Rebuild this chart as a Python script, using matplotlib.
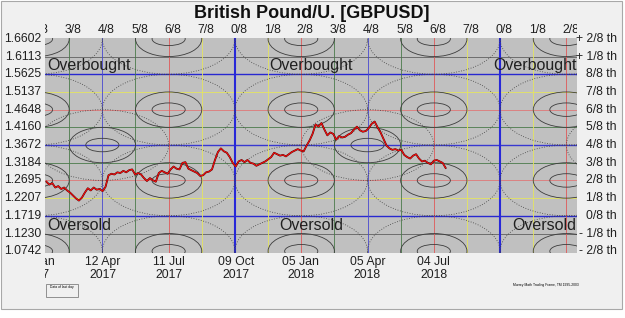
import matplotlib
matplotlib.use("Agg")
import matplotlib.pyplot as plt
import matplotlib.dates as mdates
from matplotlib.patches import Ellipse, Rectangle
from matplotlib.transforms import offset_copy
from datetime import date, timedelta

plt.rcParams['font.family'] = ['Liberation Sans', 'DejaVu Sans']

# price levels (Murrey octave) and their names
levels = [1.0742, 1.1230, 1.1719, 1.2207, 1.2695, 1.3184, 1.3672,
          1.4160, 1.4648, 1.5137, 1.5625, 1.6113, 1.6602]
level_names = ["- 2/8 th", "- 1/8 th", "0/8 th", "1/8 th", "2/8 th", "3/8 th", "4/8 th",
               "5/8 th", "6/8 th", "7/8 th", "8/8 th", "+ 1/8 th", "+ 2/8 th"]

# time frame labels
time_dates = [date(2017, 1, 12), date(2017, 4, 12), date(2017, 7, 11), date(2017, 10, 9),
              date(2018, 1, 5), date(2018, 4, 5), date(2018, 7, 4)]
time_labels = ["12 Jan\n2017", "12 Apr\n2017", "11 Jul\n2017", "09 Oct\n2017",
               "05 Jan\n2018", "05 Apr\n2018", "04 Jul\n2018"]
time_names = ["2/8", "3/8", "4/8", "5/8", "6/8", "7/8", "0/8", "1/8", "2/8",
              "3/8", "4/8", "5/8", "6/8", "7/8", "0/8", "1/8", "2/8"]

# GBPUSD, one value every 4 days from 26 Jan 2017
price_start = date(2017, 1, 26)
gbpusd = [1.266, 1.258, 1.262, 1.250, 1.254, 1.246, 1.250, 1.242, 1.236, 1.228,
          1.220, 1.214, 1.222, 1.236, 1.248, 1.242, 1.250, 1.244, 1.246, 1.240,
          1.252, 1.284, 1.288, 1.286, 1.292, 1.290, 1.296, 1.292, 1.298, 1.300,
          1.286, 1.290, 1.286, 1.276, 1.268, 1.276, 1.270, 1.266, 1.290, 1.296,
          1.292, 1.288, 1.300, 1.308, 1.302, 1.300, 1.318, 1.320, 1.302, 1.298,
          1.294, 1.290, 1.282, 1.284, 1.292, 1.294, 1.300, 1.326, 1.348, 1.358,
          1.350, 1.346, 1.334, 1.318, 1.308, 1.322, 1.326, 1.320, 1.326, 1.318,
          1.316, 1.310, 1.314, 1.318, 1.322, 1.328, 1.334, 1.346, 1.342, 1.338,
          1.340, 1.336, 1.342, 1.348, 1.352, 1.356, 1.352, 1.350, 1.366, 1.380,
          1.398, 1.424, 1.418, 1.428, 1.410, 1.394, 1.402, 1.398, 1.382, 1.392,
          1.388, 1.390, 1.396, 1.400, 1.410, 1.418, 1.408, 1.404, 1.406, 1.414,
          1.426, 1.432, 1.416, 1.402, 1.384, 1.366, 1.358, 1.354, 1.356, 1.352,
          1.354, 1.340, 1.334, 1.330, 1.338, 1.342, 1.330, 1.322, 1.324, 1.318,
          1.314, 1.324, 1.326, 1.322, 1.318, 1.304]

line_colors = {"0/8": "#2828d8", "4/8": "#4848d0", "2/8": "#e05858", "6/8": "#e05858",
               "3/8": "#4a7a4a", "5/8": "#4a7a4a", "1/8": "#e4e460", "7/8": "#e4e460"}
hlevel_colors = ["#c0c0c0", "#606060", "#2828d0", "#e4e460", "#e07878", "#4a7a4a", "#3838d0",
                 "#4a7a4a", "#e07878", "#e4e460", "#2828d0", "#606060", "#c0c0c0"]

W, H = 625, 318
fig = plt.figure(figsize=(W / 100, H / 100), dpi=100)
fig.patch.set_facecolor("white")
fig.patches.append(Rectangle((1 / W, 9 / H), 621 / W, 308 / H, transform=fig.transFigure,
                             facecolor="#f0f0f0", edgecolor="#a8a8a8", lw=0.8, zorder=-5))

left, right, top, bottom = 45, 577, 38, 253
ax = fig.add_axes([left / W, 1 - bottom / H, (right - left) / W, (bottom - top) / H])
ax.set_facecolor("#c0c0c0")
for s in ax.spines.values():
    s.set_visible(False)
ax.set_xticks([])
ax.set_yticks([])

t0 = mdates.date2num(time_dates[0])
step_t = (mdates.date2num(time_dates[-1]) - t0) / 12.0
step_p = (levels[-1] - levels[0]) / 12.0
zero_p = levels[2]

ax.set_xlim(t0 + 0.27 * step_t, t0 + 16.32 * step_t)
ax.set_ylim(levels[0] - 0.1 * step_p, levels[-1] + 0.05 * step_p)

# horizontal levels
for lv, c in zip(levels, hlevel_colors):
    lw = 1.0 if c in ("#2828d0", "#3838d0") else 0.6
    ax.axhline(lv, color=c, lw=lw, zorder=2)

# vertical time lines
for k, nm in enumerate(time_names):
    x = t0 + k * step_t
    lw = 1.5 if nm == "0/8" else 0.6
    ax.axvline(x, color=line_colors[nm], lw=lw, zorder=2)

# ellipses (time-price squares)
for k in range(-4, 21):
    n = k + 2
    x = t0 + k * step_t
    for v in range(-4, 13):
        y = zero_p + v * step_p
        solid = (n % 4 == 2 and v % 4 == 2) or (n % 8 == 4 and v == 4)
        if not solid:
            continue
        for rw, rh in [(0.5, 0.38), (1.0, 1.0)]:
            ax.add_patch(Ellipse((x, y), 2 * rw * step_t, 2 * rh * step_p, fill=False,
                                 ec="#3c3c3c", lw=0.6, zorder=3))
        ax.add_patch(Ellipse((x, y), 4 * step_t, 4 * step_p, fill=False,
                             ec="#404040", lw=0.6, ls=(0, (1, 2)), zorder=3))

# price
px = [mdates.date2num(price_start + timedelta(days=4 * i)) for i in range(len(gbpusd))]
ax.plot(px, gbpusd, color="#500000", lw=1.3, zorder=5)
ax.plot(px, gbpusd, color="#ff1010", lw=0.7, zorder=6)

# overbought / oversold
for xa, ha in [(0.004, "left"), (0.5, "center"), (0.999, "right")]:
    ax.text(xa, levels[10] + 0.1 * step_p, "Overbought", transform=ax.get_yaxis_transform(),
            ha=ha, va="bottom", fontsize=11.5, color="#202020", zorder=7)
    ax.text(xa, levels[2] - 0.12 * step_p, "Oversold", transform=ax.get_yaxis_transform(),
            ha=ha, va="top", fontsize=11.5, color="#202020", zorder=7)

# left / right price labels
for lv, nm in zip(levels, level_names):
    ax.text(-4 / (right - left), lv, f"{lv:.4f}", transform=ax.get_yaxis_transform(),
            ha="right", va="center", fontsize=8.8, color="#202020", clip_on=False)
    ax.text(1 + 40 / (right - left), lv, nm, transform=ax.get_yaxis_transform(),
            ha="right", va="center", fontsize=8.8, color="#202020", clip_on=False)

# top strip with time eighths, bottom strip with dates (clipped to plot width)
ax_top = fig.add_axes([left / W, 1 - top / H, (right - left) / W, 17 / H])
ax_bot = fig.add_axes([left / W, 1 - 284 / H, (right - left) / W, 31 / H])
for a in (ax_top, ax_bot):
    a.set_xlim(ax.get_xlim())
    a.set_ylim(0, 1)
    a.axis("off")
top_tr = offset_copy(ax_top.transData, fig=fig, x=4, y=0, units="dots")
for k, nm in enumerate(time_names):
    t = ax_top.text(t0 + k * step_t, 0.45, nm, transform=top_tr, ha="center", va="center",
                    fontsize=8.8, color="#202020")
    t.set_clip_box(ax_top.bbox)
    t.set_clip_on(True)
for d, lab in zip(time_dates, time_labels):
    t = ax_bot.text(mdates.date2num(d), 0.5, lab, ha="center", va="center", fontsize=8.8,
                    color="#202020", linespacing=1.05)
    t.set_clip_box(ax_bot.bbox)
    t.set_clip_on(True)

fig.text(312 / W, 1 - 14 / H, "British Pound/U. [GBPUSD]", ha="center", va="center",
         fontsize=13, fontweight="bold", color="#101010")

# small boxes at the bottom
fig.patches.append(Rectangle((46 / W, 1 - 297 / H), 32 / W, 13 / H, transform=fig.transFigure,
                             facecolor="none", edgecolor="#808080", lw=0.6))
fig.text(62 / W, 1 - 287 / H, "Data of last day", ha="center", va="center", fontsize=2.4)
fig.text(546 / W, 1 - 285 / H, "Murrey Math Trading Frame, TM 1995-2003", ha="center",
         va="center", fontsize=2.4)

fig.savefig("out.png", dpi=100)
